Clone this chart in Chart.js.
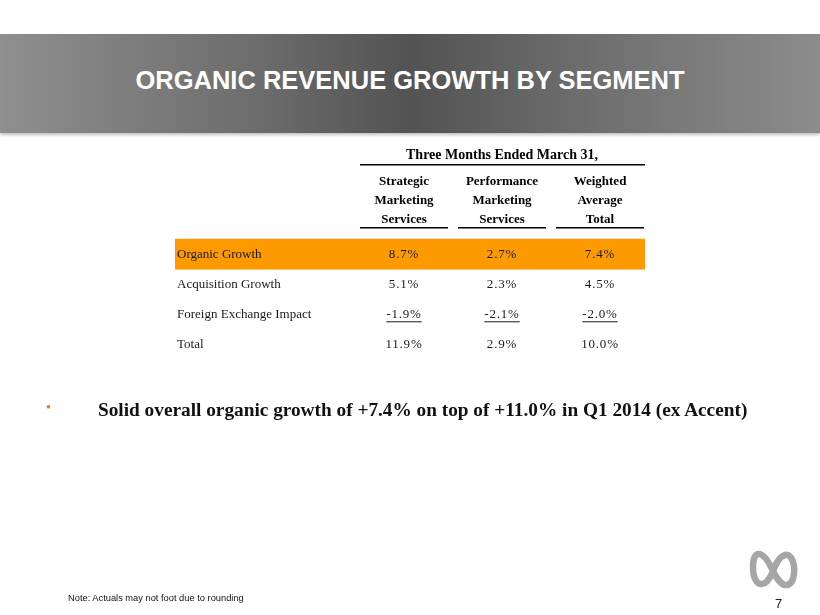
<!DOCTYPE html>
<html>
<head>
<meta charset="utf-8">
<script src="https://cdn.jsdelivr.net/npm/chart.js@4.4.0/dist/chart.umd.min.js"></script>
<style>
  body { margin: 0; width: 820px; height: 615px; position: relative; background: #fff; overflow: hidden; font-family: "Liberation Sans", Arial, sans-serif; }
  #banner { position: absolute; left: 0; top: 34px; width: 820px; height: 99px;
    background: linear-gradient(to right, #8f8f8f 0%, #6e6e6e 30%, #535353 50%, #6c6c6c 70%, #8c8c8c 100%);
    box-shadow: 0 2px 3px rgba(0,0,0,0.25); }
  #title { position: absolute; left: 0; top: 80px; width: 820px; transform: translateY(-50%); text-align: center;
    color: #fff; font: bold 25.5px "Liberation Sans", Arial, sans-serif; }
  #table { position: absolute; left: 0; top: 0; }
  #bullet { position: absolute; left: 46px; top: 406px; transform: translateY(-50%); color: #e8772e; font-size: 8px; }
  #point { position: absolute; left: 98px; top: 410px; transform: translateY(-50%); font: bold 19.3px "Liberation Serif", "Times New Roman", serif; color: #111; white-space: nowrap; }
  #note { position: absolute; left: 68px; top: 598px; transform: translateY(-50%); font-size: 9.3px; color: #111; white-space: nowrap; }
  #page { position: absolute; left: 775px; top: 603px; transform: translateY(-50%); font-size: 13px; color: #222; }
  #logo { position: absolute; left: 0; top: 0; }
</style>
</head>
<body>
<div id="banner"></div>
<div id="title">ORGANIC REVENUE GROWTH BY SEGMENT</div>
<canvas id="table" width="820" height="615"></canvas>
<div id="bullet">&#9679;</div>
<div id="point">Solid overall organic growth of +7.4% on top of +11.0% in Q1 2014 (ex Accent)</div>
<div id="note">Note: Actuals may not foot due to rounding</div>
<svg id="logo" width="820" height="615">
  <path d="M773,571 C763,549 753,549 753,567 C753,588 766,590 773,571 C780,552 791,549 794,566 C796,586 784,594 773,571 Z"
        fill="none" stroke="#a6a6a6" stroke-width="6.5"/>
</svg>
<div id="page">7</div>
<script>
const periodTitle = "Three Months Ended March 31,";
const rows = ["Organic Growth", "Acquisition Growth", "Foreign Exchange Impact", "Total"];
const columns = ["Strategic Marketing Services", "Performance Marketing Services", "Weighted Average Total"];
const strategic = [8.7, 5.1, -1.9, 11.9];
const performance = [2.7, 2.3, -2.1, 2.9];
const weighted = [7.4, 4.5, -2.0, 10.0];
const columnValues = [strategic, performance, weighted];

const SERIF = '"Liberation Serif", "Times New Roman", serif';
const HIGHLIGHT = "#fd9a00";
const underlinedRow = 2;

const tablePlugin = {
  id: "tableCells",
  beforeDraw(chart) {
    const { ctx, chartArea, scales: { x, y } } = chart;
    const step = y.getPixelForValue(1) - y.getPixelForValue(0);
    const yc = y.getPixelForValue(0);
    ctx.save();
    ctx.fillStyle = HIGHLIGHT;
    ctx.fillRect(175, yc - step / 2 - 1, chartArea.right - 4 - 175, step + 1);
    // header rules
    ctx.strokeStyle = "#000";
    ctx.lineWidth = 1.6;
    ctx.beginPath();
    ctx.moveTo(x.getPixelForValue(0) - 44, chartArea.top - 75);
    ctx.lineTo(x.getPixelForValue(2) + 45, chartArea.top - 75);
    columns.forEach((c, i) => {
      const xc = x.getPixelForValue(i);
      ctx.moveTo(xc - 44, chartArea.top - 12);
      ctx.lineTo(xc + 44, chartArea.top - 12);
    });
    ctx.stroke();
    ctx.restore();
  },
  afterDatasetsDraw(chart) {
    const { ctx } = chart;
    ctx.save();
    ctx.font = "13px " + SERIF;
    ctx.letterSpacing = "0.8px";
    ctx.fillStyle = "#1a1a1a";
    ctx.textAlign = "center";
    ctx.textBaseline = "middle";
    chart.data.datasets.forEach((ds, di) => {
      chart.getDatasetMeta(di).data.forEach((pt, i) => {
        const txt = columnValues[di][i].toFixed(1) + "%";
        ctx.fillText(txt, pt.x, pt.y);
        if (i === underlinedRow) {
          const w = ctx.measureText(txt).width;
          ctx.fillRect(pt.x - w / 2, pt.y + 7, w, 1);
        }
      });
    });
    ctx.restore();
  },
};

new Chart(document.getElementById("table"), {
  type: "line",
  data: {
    labels: columns,
    datasets: columnValues.map((vals, c) => ({
      label: columns[c],
      data: rows.map((r) => ({ x: columns[c], y: r })),
      showLine: false,
      pointRadius: 0,
    })),
  },
  options: {
    responsive: false,
    animation: false,
    events: [],
    layout: { padding: { left: 177, right: 171, top: 147, bottom: 256 } },
    plugins: { legend: { display: false }, tooltip: { enabled: false } },
    scales: {
      x: {
        type: "category",
        position: "top",
        offset: true,
        grid: { display: false },
        border: { display: false },
        title: {
          display: true,
          text: periodTitle,
          color: "#000",
          font: { family: SERIF, size: 14, weight: "bold", lineHeight: 1.2 },
          padding: { top: 0, bottom: 5 },
        },
        ticks: {
          color: "#000",
          autoSkip: false,
          maxRotation: 0,
          padding: 3,
          font: { family: SERIF, size: 13, weight: "bold", lineHeight: 1.46 },
          callback: (v, i) => columns[i].split(" "),
        },
      },
      y: {
        type: "category",
        labels: rows,
        offset: true,
        grid: { display: false },
        border: { display: false },
        afterFit: (s) => { s.width = 178; },
        ticks: {
          color: "#1a1a1a",
          crossAlign: "far",
          padding: 0,
          font: { family: SERIF, size: 13 },
        },
      },
    },
  },
  plugins: [tablePlugin],
});
</script>
</body>
</html>
